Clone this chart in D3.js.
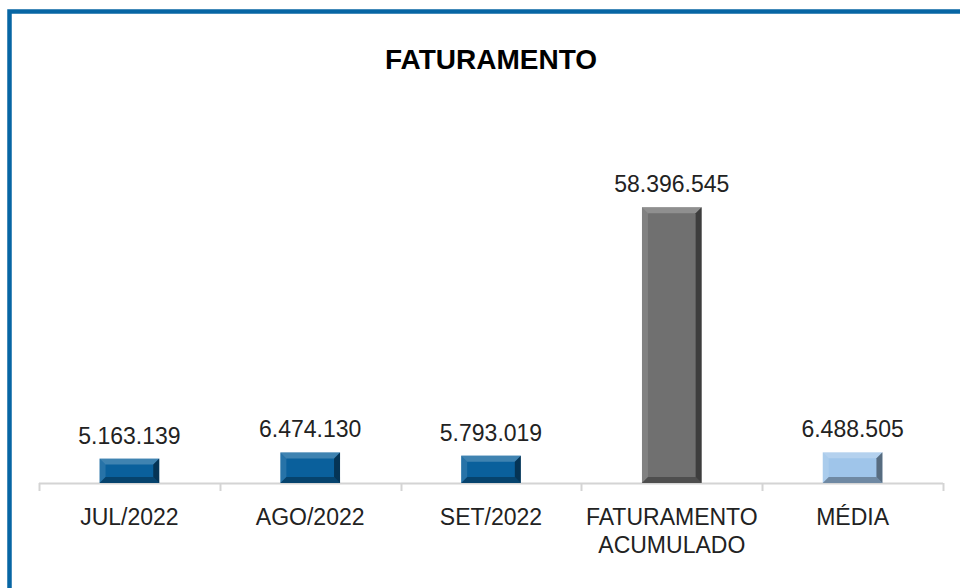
<!DOCTYPE html>
<html>
<head>
<meta charset="utf-8">
<script src="https://cdn.jsdelivr.net/npm/d3@7"></script>
<style>
  html, body { margin: 0; padding: 0; background: #fff; }
  #chart { width: 960px; height: 588px; }
</style>
</head>
<body>
<div id="chart"></div>
<script>
// Data
const categories = ["JUL/2022", "AGO/2022", "SET/2022", "FATURAMENTO\nACUMULADO", "MÉDIA"];
const values = [5163139, 6474130, 5793019, 58396545, 6488505];
const barColors = ["#0a609c", "#0a609c", "#0a609c", "#707070", "#9fc5ea"];

const width = 960, height = 588;
const margin = { top: 176, right: 17, bottom: 105, left: 39 };
const plotBottom = height - margin.bottom;

const fmt = v => d3.format(",")(v).replace(/,/g, ".");

d3.select("#chart").selectAll("*").remove();

const svg = d3.select("#chart")
    .append("svg")
    .attr("width", width)
    .attr("height", height);

// Frame (only top and left edges visible)
svg.append("path")
    .attr("d", `M9.5,${height} L9.5,11.5 L${width},11.5`)
    .attr("fill", "none")
    .attr("stroke", "#0766a4")
    .attr("stroke-width", 4.5);

// Title
svg.append("text")
    .attr("x", 491)
    .attr("y", 69)
    .attr("text-anchor", "middle")
    .style("font-family", "Liberation Sans, Arial, sans-serif")
    .style("font-weight", "bold")
    .style("font-size", "28px")
    .style("fill", "#000")
    .text("FATURAMENTO");

// Scales
const x = d3.scaleBand()
    .domain(categories)
    .range([margin.left, width - margin.right])
    .paddingInner(0.67)
    .paddingOuter(0.335);

const y = d3.scaleLinear()
    .domain([0, 65000000])
    .range([plotBottom, margin.top]);

// Axis line with ticks between categories
const step = (width - margin.left - margin.right) / categories.length;
const boundaries = d3.range(categories.length + 1).map(i => margin.left + i * step);

svg.append("line")
    .attr("x1", margin.left)
    .attr("x2", width - margin.right)
    .attr("y1", plotBottom + 0.5)
    .attr("y2", plotBottom + 0.5)
    .attr("stroke", "#d4d4d4")
    .attr("stroke-width", 2);

svg.selectAll(".tick-mark")
    .data(boundaries)
    .join("line")
    .attr("class", "tick-mark")
    .attr("x1", d => Math.round(d) + 0.5)
    .attr("x2", d => Math.round(d) + 0.5)
    .attr("y1", plotBottom)
    .attr("y2", plotBottom + 8)
    .attr("stroke", "#d4d4d4")
    .attr("stroke-width", 2);

// Bars with bevel
const bev = 6;
const barData = categories.map((c, i) => ({ c, v: values[i], color: barColors[i] }));
const bars = svg.selectAll(".bar")
    .data(barData)
    .join("g")
    .attr("class", "bar");

bars.append("rect")
    .attr("x", d => x(d.c))
    .attr("y", d => y(d.v))
    .attr("width", x.bandwidth())
    .attr("height", d => plotBottom - y(d.v))
    .attr("fill", d => d.color);

function bevelPoly(d, side) {
    const x0 = x(d.c), x1 = x0 + x.bandwidth();
    const y0 = y(d.v), y1 = plotBottom;
    const b = Math.min(bev, (y1 - y0) / 2);
    if (side === "top") return [[x0, y0], [x1, y0], [x1 - b, y0 + b], [x0 + b, y0 + b]];
    if (side === "left") return [[x0, y0], [x0 + b, y0 + b], [x0 + b, y1 - b], [x0, y1]];
    if (side === "right") return [[x1, y0], [x1, y1], [x1 - b, y1 - b], [x1 - b, y0 + b]];
    return [[x0, y1], [x0 + b, y1 - b], [x1 - b, y1 - b], [x1, y1]];
}

const bevels = [
    { side: "top", fill: "#fff", op: 0.22 },
    { side: "left", fill: "#fff", op: 0.12 },
    { side: "right", fill: "#000", op: 0.45 },
    { side: "bottom", fill: "#000", op: 0.3 }
];

bevels.forEach(s => {
    bars.append("polygon")
        .attr("points", d => bevelPoly(d, s.side).map(p => p.join(",")).join(" "))
        .attr("fill", s.fill)
        .attr("fill-opacity", s.op);
});

// Value labels
svg.selectAll(".value")
    .data(barData)
    .join("text")
    .attr("class", "value")
    .attr("x", d => x(d.c) + x.bandwidth() / 2)
    .attr("y", d => y(d.v) - 15)
    .attr("text-anchor", "middle")
    .style("font-family", "Liberation Sans, Arial, sans-serif")
    .style("font-size", "23px")
    .style("fill", "#222")
    .text(d => fmt(d.v));

// Category labels
const catLabels = svg.selectAll(".cat")
    .data(categories)
    .join("text")
    .attr("class", "cat")
    .attr("x", d => x(d) + x.bandwidth() / 2)
    .attr("y", plotBottom + 42)
    .attr("text-anchor", "middle")
    .style("font-family", "Liberation Sans, Arial, sans-serif")
    .style("font-size", "23px")
    .style("fill", "#222");

catLabels.selectAll("tspan")
    .data(d => d.split("\n"))
    .join("tspan")
    .attr("x", function () { return d3.select(this.parentNode).attr("x"); })
    .attr("dy", (d, i) => i === 0 ? 0 : 28)
    .text(d => d);
</script>
</body>
</html>
